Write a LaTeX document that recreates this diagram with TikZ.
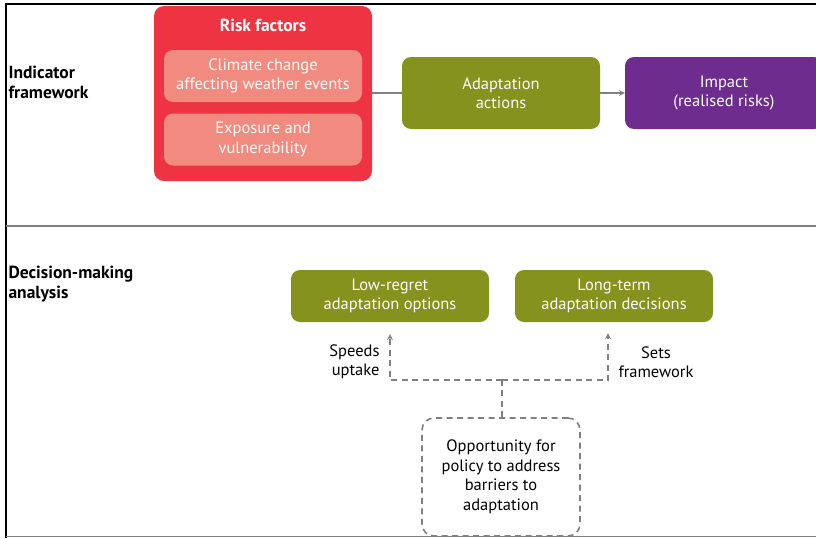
\documentclass[tikz,border=0pt]{standalone}
\usepackage{fontspec}
\setmainfont{PT Sans}
\definecolor{riskred}{HTML}{EE3342}
\definecolor{risksoft}{HTML}{F28B7F}
\definecolor{olivegreen}{HTML}{86921E}
\definecolor{impactpurple}{HTML}{6E2C8E}
\definecolor{linegrey}{HTML}{808080}
\tikzset{
  txt/.style={font=\fontsize{16.5}{19.5}\selectfont, align=center},
  boldtxt/.style={font=\bfseries\fontsize{17.5}{20}\selectfont},
  box/.style={txt, rounded corners=9pt, minimum width=198pt, text=white, inner sep=0pt},
  softbox/.style={box, fill=risksoft, text=white!95!risksoft, minimum height=52pt},
  greenbox/.style={box, fill=olivegreen, minimum height=72pt},
  sidelabel/.style={boldtxt, align=left, anchor=west},
  dashline/.style={linegrey, line width=1.6pt, dash pattern=on 6pt off 4.5pt}
}
\begin{document}
\begin{tikzpicture}[>=stealth,x=1pt,y=-1pt]
		\useasboundingbox (0,0) rectangle (816,538);
		% frame and separator
		\draw[line width=2pt] (6,538) -- (6,4) -- (816,4);
		\draw[linegrey, line width=1.5pt] (6,536.5) -- (816,536.5);
		\draw[linegrey, line width=2pt] (6,226) -- (816,226);
		\node[sidelabel] (indic) at (5,82) {Indicator\\framework};
		\node[sidelabel] (decis) at (5,284) {Decision-making\\analysis};
		% indicator framework
		\node[fill=riskred, rounded corners=10pt, minimum width=218pt, minimum height=175pt] (risk) at (263,93.5) {};
		\node[boldtxt, text=white] (risktitle) at (263,25) {Risk factors};
		\node[softbox] (climate) at (263,76) {Climate change\\affecting weather events};
		\node[softbox] (expo) at (263,139.5) {Exposure and\\vulnerability};
		\node[greenbox] (act) at (501,93) {Adaptation\\actions};
		\node[box, fill=impactpurple, minimum height=72pt] (impact) at (724,93) {Impact\\(realised risks)};
		\draw[linegrey, line width=1.5pt] (risk.east |- act.west) -- (act.west);
		\draw[->, linegrey, line width=1.5pt] (act.east) -- (impact.west);
		% decision-making analysis
		\node[greenbox, minimum height=52pt] (lowreg) at (390,296) {Low-regret\\adaptation options};
		\node[greenbox, minimum height=52pt] (longterm) at (614,296) {Long-term\\adaptation decisions};
		\node[txt, draw=linegrey, dashline, rounded corners=12pt, minimum width=158pt, minimum height=118pt, text=black] (policy) at (501,477) {Opportunity for\\policy to address\\barriers to\\adaptation};
		\coordinate (split) at (502,380);
		\draw[dashline] (policy.north -| split) -- (split);
		\draw[dashline, ->, shorten >=12pt] (split) -| (lowreg.south);
		\draw[dashline, ->, shorten >=11pt] (split) -| ([xshift=-6pt]longterm.south);
		\node[txt, align=right, anchor=east] (speeds) at (383,362) {Speeds\\uptake};
		\node[txt] (sets) at (656,362) {Sets\\framework};
		\end{tikzpicture}
\end{document}
